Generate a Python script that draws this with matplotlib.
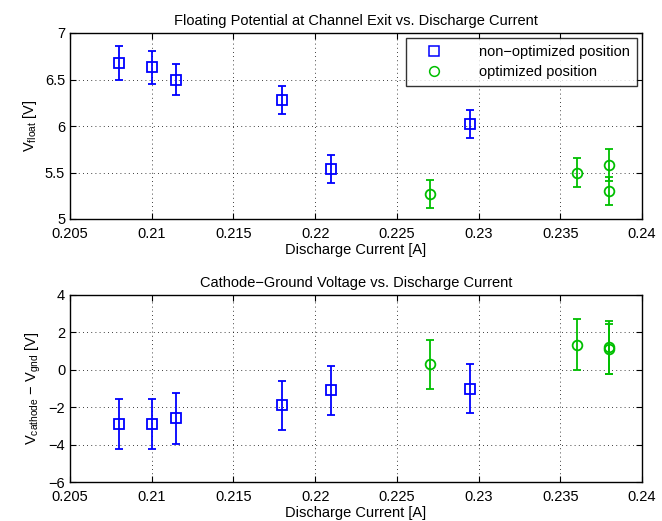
import numpy as np
import matplotlib
matplotlib.use("Agg")
import matplotlib.pyplot as plt
from matplotlib.lines import Line2D

plt.rcParams['font.family'] = ['Liberation Sans', 'DejaVu Sans']
plt.rcParams['mathtext.fontset'] = 'custom'
plt.rcParams['mathtext.rm'] = 'Liberation Sans'
plt.rcParams['mathtext.it'] = 'Liberation Sans'

# discharge current [A]
i_nonopt = [0.208, 0.210, 0.2115, 0.218, 0.221, 0.2295]
i_opt = [0.227, 0.236, 0.238, 0.238]

# floating potential [V]
vfloat_nonopt = [6.68, 6.63, 6.50, 6.28, 5.54, 6.02]
vfloat_nonopt_err = [0.18, 0.18, 0.17, 0.15, 0.15, 0.15]
vfloat_opt = [5.27, 5.50, 5.58, 5.30]
vfloat_opt_err = [0.15, 0.16, 0.17, 0.15]

# cathode - ground voltage [V]
vcg_nonopt = [-2.9, -2.9, -2.6, -1.9, -1.1, -1.0]
vcg_nonopt_err = [1.35, 1.35, 1.35, 1.3, 1.3, 1.3]
vcg_opt = [0.3, 1.35, 1.2, 1.1]
vcg_opt_err = [1.3, 1.35, 1.4, 1.35]

xticks = [0.205, 0.21, 0.215, 0.22, 0.225, 0.23, 0.235, 0.24]
xticklabels = ['0.205', '0.21', '0.215', '0.22', '0.225', '0.23', '0.235', '0.24']

blue = '#0000ff'
green = '#00bf00'

fig = plt.figure(figsize=(6.62, 5.21), dpi=100)
ax1 = fig.add_axes([70/662, 1-219/521, 572/662, 186/521])
ax2 = fig.add_axes([70/662, 1-482/521, 572/662, 187/521])


def style(ax):
    ax.set_xlim(0.205, 0.24)
    ax.set_xticks(xticks)
    ax.set_xticklabels(xticklabels)
    ax.grid(True, linestyle=(0, (1, 4)), color='black', linewidth=0.6)
    ax.tick_params(direction='in', length=4, labelsize=10.5, top=True, right=True)
    ax.tick_params(axis='x', pad=6)
    for s in ax.spines.values():
        s.set_linewidth(1.0)
    ax.set_xlabel('Discharge Current [A]', fontsize=10.5, labelpad=1)


kw = dict(linestyle='none', markersize=7, markerfacecolor='none',
          capsize=3, elinewidth=1.3, markeredgewidth=1.3)

ax1.errorbar(i_nonopt, vfloat_nonopt, yerr=vfloat_nonopt_err, marker='s',
             color=blue, **kw)
ax1.errorbar(i_opt, vfloat_opt, yerr=vfloat_opt_err, marker='o',
             color=green, **kw)
style(ax1)
ax1.set_ylim(5, 7)
ax1.set_yticks([5, 5.5, 6, 6.5, 7])
ax1.set_yticklabels(['5', '5.5', '6', '6.5', '7'])
ax1.set_ylabel(r'V$_{\mathregular{float}}$ [V]', fontsize=10.5)
ax1.set_title('Floating Potential at Channel Exit vs. Discharge Current',
              fontsize=10.5, pad=6)
handles = [
    Line2D([], [], linestyle='none', marker='s', markersize=7,
           markerfacecolor='none', markeredgecolor=blue, markeredgewidth=1.1),
    Line2D([], [], linestyle='none', marker='o', markersize=7,
           markerfacecolor='none', markeredgecolor=green, markeredgewidth=1.1),
]
leg = ax1.legend(handles, ['non\u2212optimized position', 'optimized position'],
                 loc='upper right', fontsize=10.5, frameon=True, fancybox=False,
                 edgecolor='black', handlelength=3.0, borderaxespad=0.35,
                 handletextpad=1.6, borderpad=0.45, labelspacing=0.45)
leg.get_frame().set_linewidth(1.0)

ax2.errorbar(i_nonopt, vcg_nonopt, yerr=vcg_nonopt_err, marker='s',
             color=blue, **kw)
ax2.errorbar(i_opt, vcg_opt, yerr=vcg_opt_err, marker='o',
             color=green, **kw)
style(ax2)
ax2.set_ylim(-6, 4)
ax2.set_yticks([-6, -4, -2, 0, 2, 4])
ax2.set_yticklabels(['\u22126', '\u22124', '\u22122', '0', '2', '4'])
ax2.set_ylabel('V$_{\\mathregular{cathode}}$ \u2212 V$_{\\mathregular{gnd}}$ [V]',
               fontsize=10.5)
ax2.set_title('Cathode\u2212Ground Voltage vs. Discharge Current',
              fontsize=10.5, pad=6)

fig.savefig('out.png', dpi=100)
